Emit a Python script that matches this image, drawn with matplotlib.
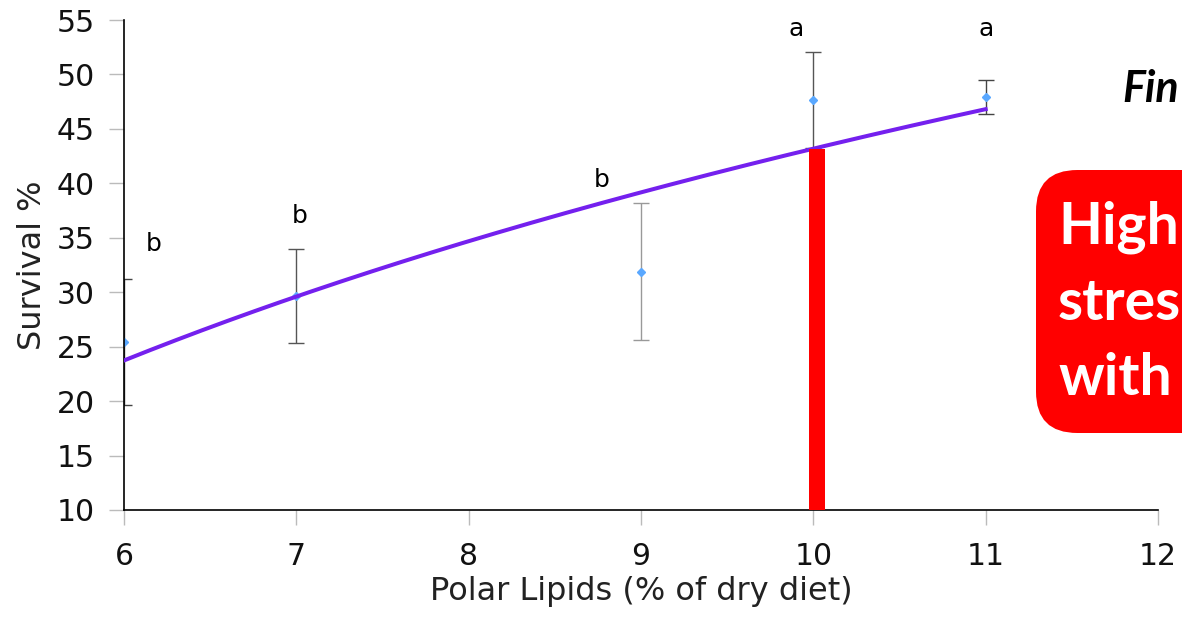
import numpy as np
import matplotlib.pyplot as plt
from matplotlib.patches import FancyBboxPatch

# values
lipids = [6, 7, 9, 10, 11]
survival = [25.4, 29.65, 31.9, 47.65, 47.9]
sd = [5.8, 4.3, 6.3, 4.4, 1.55]
letters = ['b', 'b', 'b', 'a', 'a']
letter_x = [6.17, 7.02, 8.77, 9.9, 11.0]
letter_y = [34.4, 37.0, 40.3, 54.2, 54.2]
highlight_x = 10.02

fig = plt.figure(figsize=(11.82, 6.18), dpi=100)
ax = fig.add_axes([0.1049, 0.1748, 0.8748, 0.7928])

# logarithmic trendline fitted to the means
b, a = np.polyfit(np.log(lipids), survival, 1)
xs = np.linspace(min(lipids), max(lipids), 200)
ax.plot(xs, a + b * np.log(xs), color='#7420ee', lw=2.9, zorder=3)

err_colors = ['#444444', '#555555', '#999999', '#555555', '#444444']
for x, y, e, c in zip(lipids, survival, sd, err_colors):
    ax.errorbar(x, y, yerr=e, fmt='D', ms=4.5, color='#5aa8ff', ecolor=c,
                elinewidth=1.0, capsize=6, capthick=1.0, zorder=2)

for t, x, y in zip(letters, letter_x, letter_y):
    ax.text(x, y, t, fontsize=18, ha='center', va='center', color='black')

# red bar up to the trendline at the highlighted level
top = a + b * np.log(10)
ax.bar(highlight_x, top - 10, bottom=10, width=0.092, color='#ff0000', zorder=4)

ax.set_xlim(6, 12)
ax.set_ylim(10, 55)
ax.set_xticks(range(6, 13))
ax.set_yticks(range(10, 56, 5))
ax.tick_params(labelsize=21.5, length=11, width=1, color='#bbbbbb', pad=10,
               labelcolor='#111111')
ax.tick_params(axis='x', pad=12)
for s in ['top', 'right']:
    ax.spines[s].set_visible(False)
for s in ['left', 'bottom']:
    ax.spines[s].set_linewidth(1.2)
ax.set_xlabel('Polar Lipids (% of dry diet)', fontsize=23, color='#222222', labelpad=4)
ax.set_ylabel('Survival %', fontsize=23, color='#222222', labelpad=6)

# slide overlay on the right, cut off by the figure edge
box = FancyBboxPatch((1036 / 1182, (618 - 433) / 618), 0.3, (433 - 170) / 618,
                     boxstyle='round,pad=0,rounding_size=0.035',
                     transform=fig.transFigure, facecolor='#ff0000',
                     edgecolor='none', clip_on=False, mutation_aspect=1182 / 618)
fig.patches.append(box)
for line, yb in zip(['High', 'stres', 'with'], [243, 320, 395]):
    fig.text(1058 / 1182, 1 - yb / 618, line, fontsize=41, fontweight='bold',
             family='Lato', color='white', va='baseline', ha='left')
fig.text(1122 / 1182, 1 - 102 / 618, 'Fin', fontsize=31, fontweight='bold',
         fontstyle='italic', family='Lato', color='black', va='baseline', ha='left')

fig.savefig('out.png', dpi=100)
